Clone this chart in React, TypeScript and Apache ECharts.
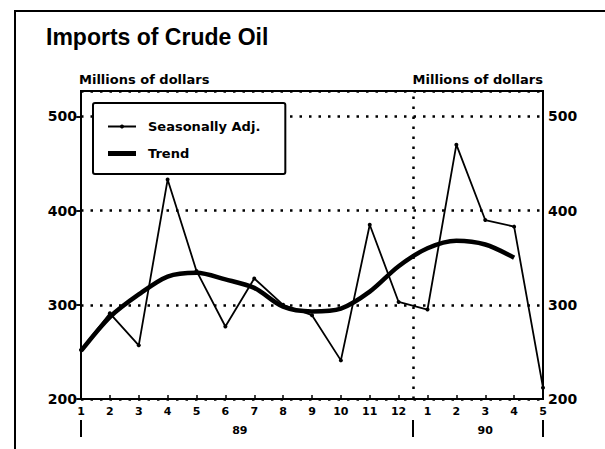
import React, { useEffect, useRef } from "react";
import * as echarts from "echarts";

const monthLabels = ["1", "2", "3", "4", "5", "6", "7", "8", "9", "10", "11", "12", "1", "2", "3", "4", "5"];
const seasonallyAdj = [252, 291, 257, 433, 336, 277, 328, 300, 289, 241, 385, 303, 295, 470, 390, 383, 212];
const trend = [251, 287, 311, 330, 334, 327, 318, 298, 293, 296, 314, 341, 360, 368, 364, 350];
const yearLabels = ["89", "90"];
const yearCenters = [5.5, 14];
const yearBreaks = [0, 11.5, 16];
const yTicks = { min: 200, max: 527, interval: 100 };

const FONT = "DejaVu Sans";

export default function App() {
  const ref = useRef<HTMLDivElement>(null);
  useEffect(() => {
    if (!ref.current) return;
    const chart = echarts.init(ref.current, null, { renderer: "svg" });
    const labelStyle = { fontFamily: FONT, fontWeight: "bold" as const, color: "#000" };
    const option = {
      animation: false,
      backgroundColor: "#fff",
      grid: {
        left: 81,
        right: 62,
        top: 91,
        bottom: 50,
        show: true,
        borderColor: "#000",
        borderWidth: 2,
        backgroundColor: "transparent",
      },
      legend: {
        left: 93,
        top: 103,
        orient: "vertical",
        backgroundColor: "#fff",
        borderColor: "#000",
        borderWidth: 2,
        borderRadius: 2,
        padding: [17, 25, 14, 14],
        itemWidth: 28,
        itemHeight: 5,
        itemGap: 14,
        textStyle: { ...labelStyle, fontSize: 13, padding: [0, 0, 0, 7] },
        data: [
          { name: "Seasonally Adj." },
          { name: "Trend", icon: "rect" },
        ],
      },
      graphic: [
        {
          type: "polyline",
          shape: { points: [[15, 449], [15, 11], [605, 11]] },
          style: { stroke: "#000", lineWidth: 2, fill: "none" },
        },
        {
          type: "text",
          x: 46,
          y: 37,
          style: {
            text: "Imports of Crude Oil",
            fontFamily: "Liberation Sans",
            fontWeight: "bold",
            fontSize: 23,
            fill: "#000",
            textVerticalAlign: "middle",
          },
        },
        {
          type: "text",
          x: 79,
          y: 79,
          style: {
            text: "Millions of dollars",
            fontFamily: FONT,
            fontWeight: "bold",
            fontSize: 13,
            fill: "#000",
            textVerticalAlign: "middle",
          },
        },
        {
          type: "text",
          x: 543,
          y: 79,
          style: {
            text: "Millions of dollars",
            fontFamily: FONT,
            fontWeight: "bold",
            fontSize: 13,
            fill: "#000",
            textAlign: "right",
            textVerticalAlign: "middle",
          },
        },
      ],
      xAxis: [
        {
          type: "value",
          min: 0,
          max: monthLabels.length - 1,
          interval: 1,
          axisLine: { lineStyle: { color: "#000", width: 2 } },
          axisTick: { inside: true, length: 4, lineStyle: { color: "#000", width: 1.5 } },
          axisLabel: {
            ...labelStyle,
            fontSize: 11,
            margin: 7,
            formatter: (v: number) => monthLabels[v] ?? "",
          },
          splitLine: { show: false },
        },
        {
          type: "value",
          min: 0,
          max: monthLabels.length - 1,
          position: "bottom",
          offset: 21,
          axisLine: { show: false },
          axisTick: {
            show: true,
            customValues: yearBreaks,
            length: 17,
            lineStyle: { color: "#000", width: 2 },
          },
          axisLabel: {
            ...labelStyle,
            fontSize: 11,
            margin: 5,
            customValues: yearCenters,
            formatter: (v: number) => yearLabels[yearCenters.indexOf(v)] ?? "",
          },
          splitLine: { show: false },
        },
      ],
      yAxis: [
        {
          type: "value",
          ...yTicks,
          axisLine: { show: true, lineStyle: { color: "#000", width: 2 } },
          axisTick: { show: true, length: 4, lineStyle: { color: "#000", width: 1.5 } },
          axisLabel: { ...labelStyle, fontSize: 14, margin: 4, showMaxLabel: false },
          splitLine: {
            show: true,
            lineStyle: { color: "#000", type: [2.5, 7], width: 2.5 },
          },
        },
        {
          type: "value",
          position: "right",
          ...yTicks,
          axisLine: { show: true, lineStyle: { color: "#000", width: 2 } },
          axisTick: { show: true, inside: true, length: 5, lineStyle: { color: "#000", width: 1.5 } },
          axisLabel: { ...labelStyle, fontSize: 14, margin: 5, showMaxLabel: false },
          splitLine: { show: false },
        },
      ],
      series: [
        {
          name: "Seasonally Adj.",
          type: "line",
          xAxisIndex: 0,
          yAxisIndex: 0,
          data: seasonallyAdj.map((v, i) => [i, v]),
          symbol: "circle",
          symbolSize: 4,
          showSymbol: true,
          lineStyle: { color: "#000", width: 1.8 },
          itemStyle: { color: "#000" },
          markLine: {
            silent: true,
            symbol: ["none", "none"],
            label: { show: false },
            lineStyle: { color: "#000", type: [2.5, 7.5], width: 2.5 },
            data: [{ xAxis: 11.5 }],
          },
          z: 3,
        },
        {
          name: "Trend",
          type: "line",
          xAxisIndex: 0,
          yAxisIndex: 0,
          data: trend.map((v, i) => [i, v]),
          symbol: "none",
          smooth: 0.3,
          lineStyle: { color: "#000", width: 4.5 },
          itemStyle: { color: "#000" },
          z: 2,
        },
      ],
    };
    chart.setOption(option as any);
    return () => chart.dispose();
  }, []);
  return (
    <div
      ref={ref}
      style={{ position: "fixed", left: 0, top: 0, width: 605, height: 449, background: "#fff" }}
    />
  );
}
